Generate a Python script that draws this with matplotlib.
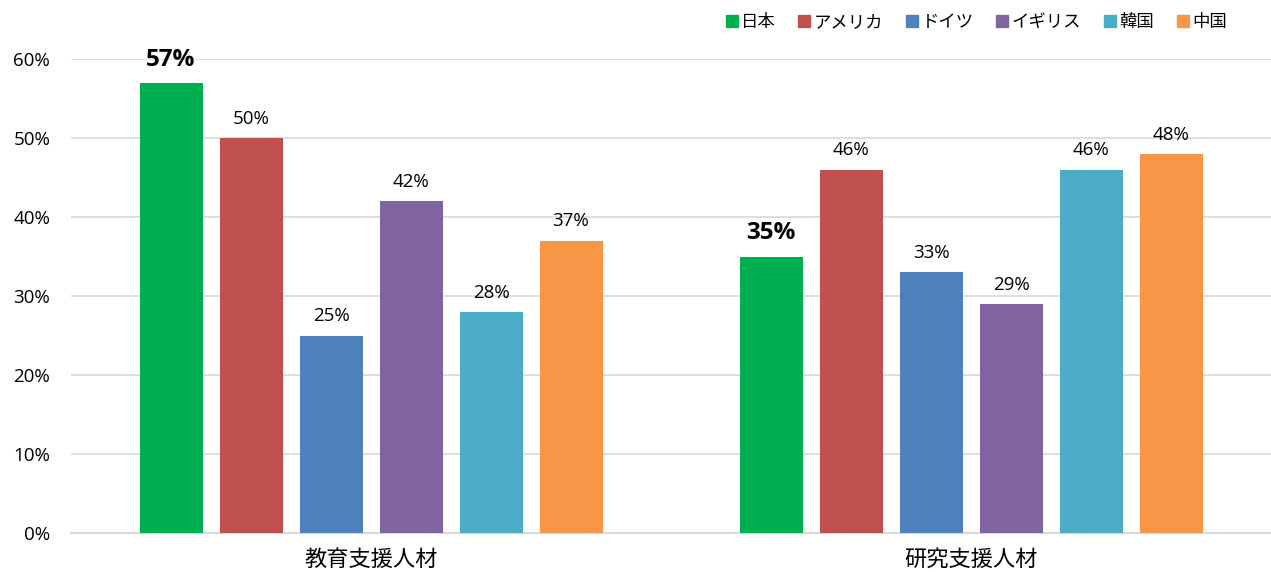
import matplotlib
matplotlib.use("Agg")
import matplotlib.pyplot as plt
from matplotlib.lines import Line2D
import numpy as np

plt.rcParams["font.family"] = ["Open Sans", "Noto Sans CJK JP", "DejaVu Sans"]
CJK = ["Noto Sans CJK JP", "DejaVu Sans"]

categories = ["教育支援人材", "研究支援人材"]
countries = ["日本", "アメリカ", "ドイツ", "イギリス", "韓国", "中国"]
values = {
    "日本":   [57, 35],
    "アメリカ": [50, 46],
    "ドイツ":  [25, 33],
    "イギリス": [42, 29],
    "韓国":   [28, 46],
    "中国":   [37, 48],
}
colors = ["#00b050", "#c0504d", "#4f81bd", "#8064a2", "#4bacc6", "#f79646"]
highlight = "日本"

fig = plt.figure(figsize=(12.71, 5.72), dpi=100)
ax = fig.add_axes([71 / 1271, 39 / 572, 1200 / 1271, 474 / 572])

x = np.arange(len(categories))
step, width = 80 / 600, 63 / 600
for i, (name, c) in enumerate(zip(countries, colors)):
    pos = x + (i - 2.5) * step
    vals = np.array(values[name]) / 100
    ax.bar(pos, vals, width, color=c, zorder=3)
    for px, v in zip(pos, values[name]):
        if name == highlight:
            ax.text(px, v / 100 + 0.014, f"{v}%", ha="center", va="bottom",
                    fontsize=17.5, fontweight="bold", color="black", clip_on=False)
        else:
            ax.text(px, v / 100 + 0.013, f"{v}%", ha="center", va="bottom",
                    fontsize=13.5, color="black", clip_on=False)

ticks = np.arange(0, 0.61, 0.1)
ax.set_xlim(-0.5, 1.5)
ax.set_ylim(0, 0.6)
ax.set_yticks(ticks)
ax.set_yticklabels([f"{int(round(t * 100))}%" for t in ticks], fontsize=13.5)
ax.set_xticks(x)
ax.set_xticklabels(categories, family=CJK, fontsize=16)
ax.tick_params(axis="x", length=0, pad=11)
ax.tick_params(axis="y", length=0, pad=15)
ax.grid(axis="y", color="#d9d9d9", linewidth=1.2, zorder=0)
for s in ["top", "right", "left"]:
    ax.spines[s].set_visible(False)
ax.spines["bottom"].set_color("#d9d9d9")
ax.spines["bottom"].set_linewidth(1.5)

handles = [Line2D([], [], marker="s", linestyle="", markersize=8, color=c) for c in colors]
fig.legend(handles, countries, loc="upper right", bbox_to_anchor=(0.978, 1.005),
           ncol=6, frameon=False, prop={"family": CJK, "size": 12.5},
           handletextpad=0.05, columnspacing=1.15, handlelength=1.0)

fig.savefig("out.png", dpi=100)
